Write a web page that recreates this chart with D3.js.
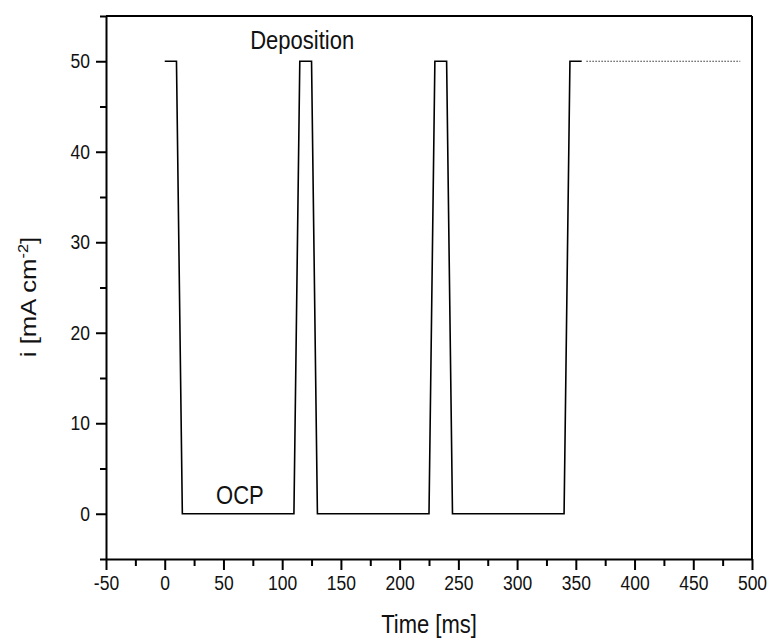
<!DOCTYPE html>
<html>
<head>
<meta charset="utf-8">
<script src="https://cdn.jsdelivr.net/npm/d3@7"></script>
<style>
  body { margin: 0; background: #fff; }
  svg { font-family: "Liberation Sans", Arial, sans-serif; }
  .axis path, .axis line { stroke: #000; stroke-width: 2; }
  .axis text { fill: #111; font-size: 17.5px; }
</style>
</head>
<body>
<div id="chart"></div>
<script>
// pulse signal (time in ms, current density in mA cm^-2)
var timeMs  = [0, 10, 15, 110, 115, 125, 130, 225, 230, 240, 245, 340, 345, 355];
var current = [50, 50, 0, 0, 50, 50, 0, 0, 50, 50, 0, 0, 50, 50];

// continuation drawn dotted
var dotTimeMs  = [359, 490];
var dotCurrent = [50, 50];

// ticks
var xMajor = [-50, 0, 50, 100, 150, 200, 250, 300, 350, 400, 450, 500];
var xMinor = [-25, 25, 75, 125, 175, 225, 275, 325, 375, 425, 475];
var yMajor = [0, 10, 20, 30, 40, 50];
var yMinor = [-5, 5, 15, 25, 35, 45, 55];

var width = 770, height = 639;
var margin = {top: 16, right: 18, bottom: 80, left: 106};
var stretch = 1.17;

var svg = d3.select("#chart").append("svg")
    .attr("width", width)
    .attr("height", height);

var xScale = d3.scaleLinear()
    .domain([-50, 500])
    .range([margin.left, width - margin.right]);

var yScale = d3.scaleLinear()
    .domain([-5, 55])
    .range([height - margin.bottom, margin.top]);

// plain hyphen for negatives, like the original
var fmt = function(d) { return String(d); };

// frame: top and right lines
svg.append("line")
    .attr("x1", xScale(-50)).attr("x2", xScale(500))
    .attr("y1", yScale(55)).attr("y2", yScale(55))
    .attr("stroke", "#000").attr("stroke-width", 2);
svg.append("line")
    .attr("x1", xScale(500)).attr("x2", xScale(500))
    .attr("y1", yScale(55)).attr("y2", yScale(-5))
    .attr("stroke", "#000").attr("stroke-width", 2);

// x minor ticks
svg.append("g")
    .attr("class", "axis")
    .attr("transform", "translate(" + [0, yScale(-5)] + ")")
    .call(d3.axisBottom(xScale).tickValues(xMinor).tickSize(7).tickSizeOuter(0).tickFormat(""))
    .select(".domain").remove();

// x major ticks
var xAxis = svg.append("g")
    .attr("class", "axis")
    .attr("transform", "translate(" + [0, yScale(-5)] + ")")
    .call(d3.axisBottom(xScale).tickValues(xMajor).tickSize(11).tickSizeOuter(0).tickFormat(fmt));
xAxis.selectAll("text")
    .attr("dy", 0)
    .attr("y", 31 / stretch)
    .attr("transform", "scale(1," + stretch + ")");

// y minor ticks
svg.append("g")
    .attr("class", "axis")
    .attr("transform", "translate(" + [xScale(-50), 0] + ")")
    .call(d3.axisLeft(yScale).tickValues(yMinor).tickSize(6).tickSizeOuter(0).tickFormat(""))
    .select(".domain").remove();

// y major ticks
var yAxis = svg.append("g")
    .attr("class", "axis")
    .attr("transform", "translate(" + [xScale(-50), 0] + ")")
    .call(d3.axisLeft(yScale).tickValues(yMajor).tickSize(10).tickSizeOuter(0).tickFormat(fmt));
yAxis.selectAll("text")
    .attr("x", -16)
    .attr("transform", "scale(1," + stretch + ")");

// axis titles
svg.append("text")
    .attr("text-anchor", "middle")
    .attr("transform", "translate(" + [429, 633] + ") scale(1," + stretch + ")")
    .style("font-size", "22px")
    .attr("fill", "#111")
    .text("Time [ms]");

var yTitle = svg.append("text")
    .attr("text-anchor", "middle")
    .attr("transform", "translate(" + [36, 297] + ") rotate(-90) scale(" + stretch + ",1)")
    .style("font-size", "22px")
    .attr("fill", "#111");
yTitle.append("tspan").text("i [mA cm");
yTitle.append("tspan").attr("dy", -8).style("font-size", "14px").text("-2");
yTitle.append("tspan").attr("dy", 8).text("]");

// make line
var line = d3.line()
    .x(function(d) { return xScale(d.t); })
    .y(function(d) { return yScale(d.i); });

var dataset = timeMs.map(function(t, k) { return {t: t, i: current[k]}; });
var dotted = dotTimeMs.map(function(t, k) { return {t: t, i: dotCurrent[k]}; });

svg.append("path")
    .datum(dataset)
    .attr("fill", "none")
    .attr("stroke", "#000")
    .attr("stroke-width", 1.6)
    .attr("d", line);

svg.append("path")
    .datum(dotted)
    .attr("fill", "none")
    .attr("stroke", "#333")
    .attr("stroke-width", 1.2)
    .attr("stroke-dasharray", "1.5,1.5")
    .attr("d", line);

// annotations
svg.append("text")
    .attr("text-anchor", "middle")
    .attr("transform", "translate(" + [xScale(117), yScale(51.3)] + ") scale(1," + stretch + ")")
    .style("font-size", "22px")
    .attr("fill", "#111")
    .text("Deposition");

svg.append("text")
    .attr("text-anchor", "middle")
    .attr("transform", "translate(" + [xScale(64), yScale(1.1)] + ") scale(1," + stretch + ")")
    .style("font-size", "22px")
    .attr("fill", "#111")
    .text("OCP");
</script>
</body>
</html>
